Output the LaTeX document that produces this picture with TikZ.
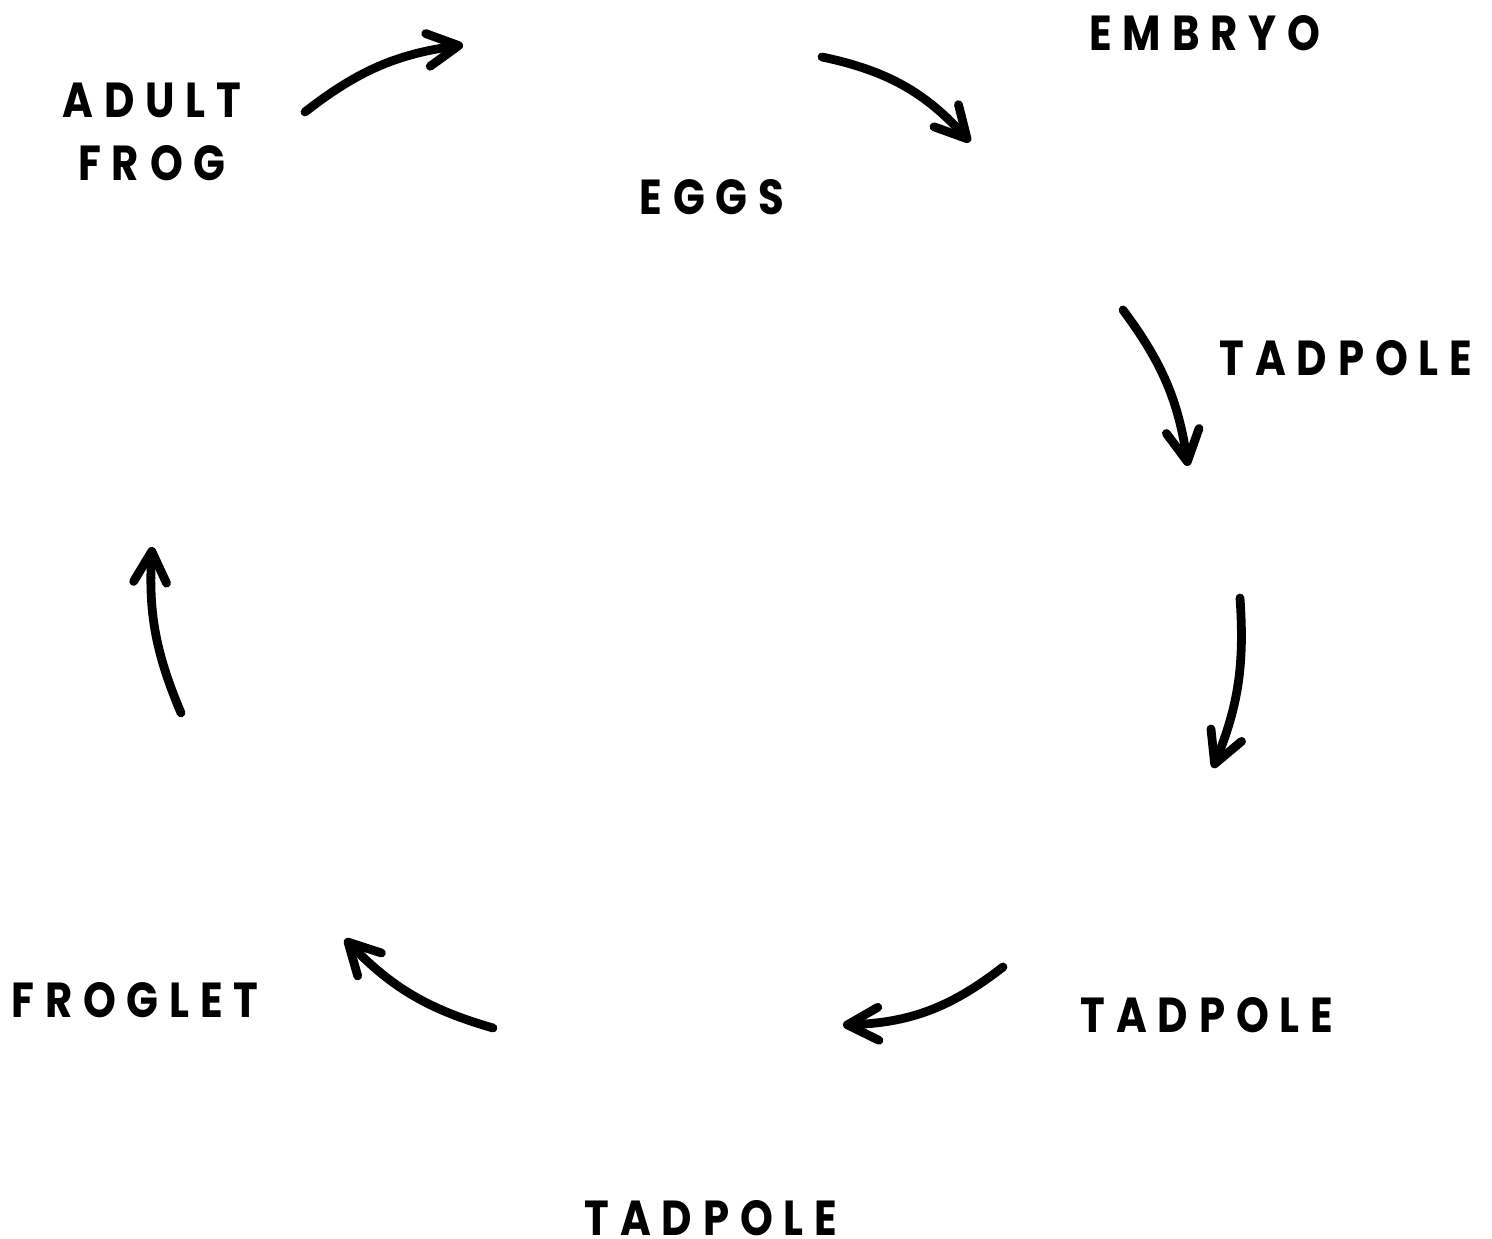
\documentclass[tikz,border=0pt]{standalone}
\usepackage{fontspec}
\newfontfamily\lblfont{Poppins}[LetterSpace=22,FakeStretch=0.85]
\usetikzlibrary{arrows.meta}
\tikzset{
  stage/.style={font=\lblfont\bfseries\fontsize{28}{36}\selectfont,align=center,inner sep=0pt},
  cycarrow/.style={line width=5pt,line cap=round,-{Straight Barb[length=0.62cm,width=0.66cm,round]}}
}
\begin{document}
\begin{tikzpicture}[x=0.02cm,y=0.02cm]
                \useasboundingbox (0,0) rectangle (1492,1239);
                %% stages
                \node[stage] (adult) at (152,1107) {ADULT\\FROG};
                \node[stage] (eggs) at (712,1042) {EGGS};
                \node[stage] (embryo) at (1205,1206) {EMBRYO};
                \node[stage] (tadA) at (1346,881) {TADPOLE};
                \node[stage] (tadB) at (1207,224) {TADPOLE};
                \node[stage,anchor=base,text depth=0pt] (tadC) at (711,3) {TADPOLE};
                \node[stage] (froglet) at (135,239) {FROGLET};
                %% arrow ends
                \coordinate (a1) at (305,1127); \coordinate (b1) at (463,1194);
                \coordinate (a2) at (822,1182); \coordinate (b2) at (970,1097);
                \coordinate (a3) at (1123,929); \coordinate (b3) at (1188,773);
                \coordinate (a4) at (1240,641); \coordinate (b4) at (1213,471);
                \coordinate (a5) at (1003,272); \coordinate (b5) at (843,214);
                \coordinate (a6) at (493,211);  \coordinate (b6) at (345,300);
                \coordinate (a7) at (181,526);  \coordinate (b7) at (152,692);
                %% arrows
                \draw[cycarrow] (a1) to[bend left=15] (b1);
                \draw[cycarrow] (a2) to[bend left=18] (b2);
                \draw[cycarrow] (a3) to[bend left=14] (b3);
                \draw[cycarrow] (a4) to[bend left=13] (b4);
                \draw[cycarrow] (a5) to[bend left=18] (b5);
                \draw[cycarrow] (a6) to[bend left=15] (b6);
                \draw[cycarrow] (a7) to[bend left=13] (b7);
            \end{tikzpicture}
\end{document}
